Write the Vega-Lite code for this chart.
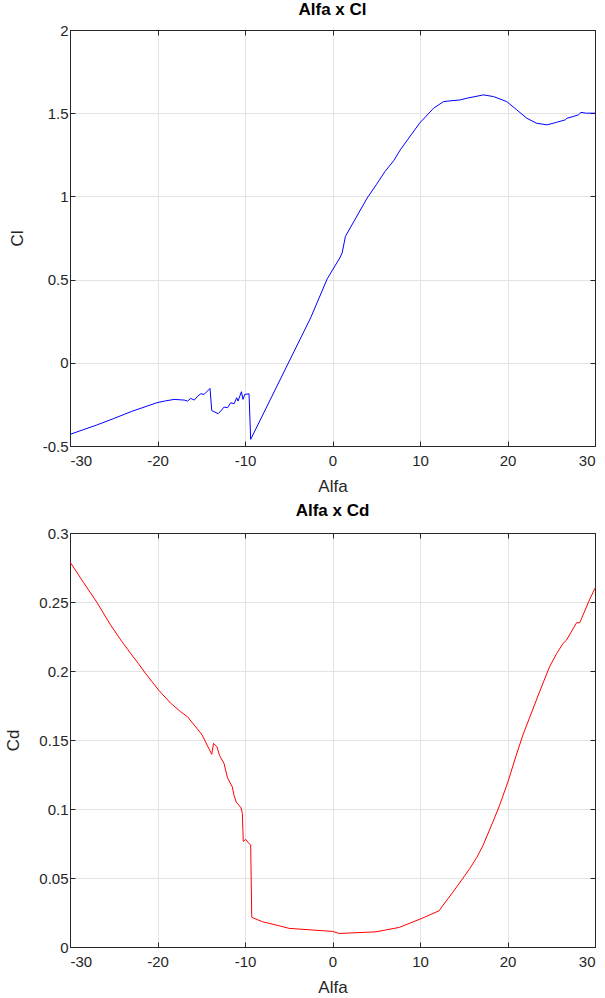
{
  "$schema": "https://vega.github.io/schema/vega-lite/v6.json",
  "background": "white",
  "padding": {"left": 4, "top": 0, "right": 2, "bottom": 2},
  "spacing": 6,
  "config": {
    "font": "Liberation Sans",
    "view": {"stroke": "#262626", "strokeWidth": 1},
    "axis": {
      "labelFontSize": 15,
      "titleFontSize": 17,
      "titleFontWeight": "normal",
      "labelColor": "#262626",
      "titleColor": "#262626",
      "domainColor": "#262626",
      "tickColor": "#262626",
      "gridColor": "#e3e3e3",
      "tickSize": -5,
      "labelPadding": 7
    },
    "axisX": {"labelPadding": 12, "titlePadding": 10},
    "axisY": {"titlePadding": 16},
    "title": {"fontSize": 17, "fontWeight": "bold", "color": "#000000"}
  },
  "datasets": {
    "cl": [
      {"alfa": -30, "cl": -0.43}, {"alfa": -27, "cl": -0.375}, {"alfa": -25, "cl": -0.335}, {"alfa": -23, "cl": -0.293},
      {"alfa": -20.07, "cl": -0.24}, {"alfa": -19.2, "cl": -0.23}, {"alfa": -18.1, "cl": -0.22}, {"alfa": -16.95, "cl": -0.224},
      {"alfa": -16.57, "cl": -0.23}, {"alfa": -16.2, "cl": -0.214}, {"alfa": -15.8, "cl": -0.224}, {"alfa": -15.4, "cl": -0.2},
      {"alfa": -15.05, "cl": -0.186}, {"alfa": -14.67, "cl": -0.19}, {"alfa": -14.0, "cl": -0.154}, {"alfa": -13.8, "cl": -0.287},
      {"alfa": -13.07, "cl": -0.306}, {"alfa": -12.77, "cl": -0.29}, {"alfa": -12.39, "cl": -0.266}, {"alfa": -12.0, "cl": -0.27},
      {"alfa": -11.63, "cl": -0.24}, {"alfa": -11.25, "cl": -0.246}, {"alfa": -10.95, "cl": -0.21}, {"alfa": -10.8, "cl": -0.23},
      {"alfa": -10.41, "cl": -0.174}, {"alfa": -10.23, "cl": -0.22}, {"alfa": -10.03, "cl": -0.19}, {"alfa": -9.54, "cl": -0.186},
      {"alfa": -9.35, "cl": -0.46}, {"alfa": -2.5, "cl": 0.27}, {"alfa": -0.6, "cl": 0.505}, {"alfa": 0.83, "cl": 0.63},
      {"alfa": 1.1, "cl": 0.66}, {"alfa": 1.48, "cl": 0.76}, {"alfa": 3.96, "cl": 0.99}, {"alfa": 5.0, "cl": 1.07},
      {"alfa": 6.0, "cl": 1.15}, {"alfa": 7.0, "cl": 1.215}, {"alfa": 7.75, "cl": 1.28}, {"alfa": 9.95, "cl": 1.44},
      {"alfa": 11.55, "cl": 1.53}, {"alfa": 12.7, "cl": 1.57}, {"alfa": 14.6, "cl": 1.58}, {"alfa": 15.36, "cl": 1.59},
      {"alfa": 17.25, "cl": 1.61}, {"alfa": 18.4, "cl": 1.6}, {"alfa": 19.9, "cl": 1.57}, {"alfa": 21.06, "cl": 1.52},
      {"alfa": 22.2, "cl": 1.47}, {"alfa": 23.3, "cl": 1.44}, {"alfa": 24.5, "cl": 1.43}, {"alfa": 25.6, "cl": 1.445},
      {"alfa": 26.6, "cl": 1.46}, {"alfa": 26.8, "cl": 1.47}, {"alfa": 27.5, "cl": 1.48}, {"alfa": 28.1, "cl": 1.49},
      {"alfa": 28.4, "cl": 1.505}, {"alfa": 29.0, "cl": 1.5}, {"alfa": 30, "cl": 1.5}
    ],
    "cd": [
      {"alfa": -30, "cd": 0.279}, {"alfa": -28.44, "cd": 0.264}, {"alfa": -26.9, "cd": 0.2495}, {"alfa": -25.4, "cd": 0.2337},
      {"alfa": -24.2, "cd": 0.2225}, {"alfa": -23.1, "cd": 0.213}, {"alfa": -22.2, "cd": 0.2055}, {"alfa": -21.4, "cd": 0.1985},
      {"alfa": -20.6, "cd": 0.192}, {"alfa": -19.85, "cd": 0.186}, {"alfa": -18.5, "cd": 0.1767},
      {"alfa": -17.4, "cd": 0.1707}, {"alfa": -16.6, "cd": 0.167}, {"alfa": -15.5, "cd": 0.1585}, {"alfa": -14.9, "cd": 0.1536},
      {"alfa": -13.8, "cd": 0.1396}, {"alfa": -13.6, "cd": 0.1476}, {"alfa": -13.2, "cd": 0.145}, {"alfa": -12.9, "cd": 0.1386},
      {"alfa": -12.4, "cd": 0.133}, {"alfa": -12.0, "cd": 0.1226}, {"alfa": -11.45, "cd": 0.116}, {"alfa": -11.26, "cd": 0.11},
      {"alfa": -11.0, "cd": 0.105}, {"alfa": -10.45, "cd": 0.1008}, {"alfa": -10.3, "cd": 0.0967}, {"alfa": -10.2, "cd": 0.0765},
      {"alfa": -9.92, "cd": 0.078}, {"alfa": -9.62, "cd": 0.0755}, {"alfa": -9.35, "cd": 0.074}, {"alfa": -9.23, "cd": 0.0215},
      {"alfa": -8.0, "cd": 0.0183}, {"alfa": -6.1, "cd": 0.0154}, {"alfa": -4.96, "cd": 0.0135}, {"alfa": 0, "cd": 0.0113},
      {"alfa": 0.77, "cd": 0.0098}, {"alfa": 4.97, "cd": 0.011}, {"alfa": 7.64, "cd": 0.0142}, {"alfa": 10.3, "cd": 0.021},
      {"alfa": 12.2, "cd": 0.0263}, {"alfa": 12.6, "cd": 0.03}, {"alfa": 13.75, "cd": 0.0397}, {"alfa": 14.7, "cd": 0.048}, {"alfa": 15.66, "cd": 0.0566},
      {"alfa": 16.5, "cd": 0.065}, {"alfa": 17.2, "cd": 0.0736}, {"alfa": 18.33, "cd": 0.0906}, {"alfa": 19.1, "cd": 0.1027}, {"alfa": 20.05, "cd": 0.1197},
      {"alfa": 21.0, "cd": 0.139}, {"alfa": 21.76, "cd": 0.1536}, {"alfa": 22.5, "cd": 0.1658}, {"alfa": 23.67, "cd": 0.185},
      {"alfa": 24.8, "cd": 0.203}, {"alfa": 25.6, "cd": 0.2125}, {"alfa": 26.35, "cd": 0.22}, {"alfa": 26.7, "cd": 0.222}, {"alfa": 27.9, "cd": 0.235},
      {"alfa": 28.26, "cd": 0.235}, {"alfa": 29.4, "cd": 0.252}, {"alfa": 30, "cd": 0.26}
    ]
  },
  "vconcat": [
    {
      "title": {"text": "Alfa x Cl", "offset": 4},
      "width": 525,
      "height": 416,
      "data": {"name": "cl"},
      "resolve": {"axis": {"x": "independent", "y": "independent"}},
      "layer": [
        {
          "mark": {"type": "line", "color": "#0000ff", "strokeWidth": 1, "clip": true},
          "encoding": {
            "x": {"field": "alfa", "type": "quantitative", "title": "Alfa",
                  "scale": {"domain": [-30, 30], "nice": false, "zero": false},
                  "axis": {"values": [-30, -20, -10, 0, 10, 20, 30], "labelExpr": "'' + datum.value"}},
            "y": {"field": "cl", "type": "quantitative", "title": "Cl",
                  "scale": {"domain": [-0.5, 2], "nice": false, "zero": false},
                  "axis": {"values": [-0.5, 0, 0.5, 1, 1.5, 2], "labelExpr": "'' + datum.value"}}
          }
        },
        {
          "mark": {"type": "line", "strokeOpacity": 0, "clip": true},
          "encoding": {
            "x": {"field": "alfa", "type": "quantitative",
                  "axis": {"orient": "top", "values": [-30, -20, -10, 0, 10, 20, 30], "labels": false, "title": null, "grid": false}},
            "y": {"field": "cl", "type": "quantitative",
                  "axis": {"orient": "right", "values": [-0.5, 0, 0.5, 1, 1.5, 2], "labels": false, "title": null, "grid": false}}
          }
        }
      ]
    },
    {
      "title": {"text": "Alfa x Cd", "offset": 6},
      "width": 525,
      "height": 414,
      "data": {"name": "cd"},
      "resolve": {"axis": {"x": "independent", "y": "independent"}},
      "layer": [
        {
          "mark": {"type": "line", "color": "#ff0000", "strokeWidth": 1, "clip": true},
          "encoding": {
            "x": {"field": "alfa", "type": "quantitative", "title": "Alfa",
                  "scale": {"domain": [-30, 30], "nice": false, "zero": false},
                  "axis": {"values": [-30, -20, -10, 0, 10, 20, 30], "labelExpr": "'' + datum.value"}},
            "y": {"field": "cd", "type": "quantitative", "title": "Cd",
                  "scale": {"domain": [0, 0.3], "nice": false, "zero": false},
                  "axis": {"values": [0, 0.05, 0.1, 0.15, 0.2, 0.25, 0.3], "labelExpr": "'' + datum.value"}}
          }
        },
        {
          "mark": {"type": "line", "strokeOpacity": 0, "clip": true},
          "encoding": {
            "x": {"field": "alfa", "type": "quantitative",
                  "axis": {"orient": "top", "values": [-30, -20, -10, 0, 10, 20, 30], "labels": false, "title": null, "grid": false}},
            "y": {"field": "cd", "type": "quantitative",
                  "axis": {"orient": "right", "values": [0, 0.05, 0.1, 0.15, 0.2, 0.25, 0.3], "labels": false, "title": null, "grid": false}}
          }
        }
      ]
    }
  ]
}
